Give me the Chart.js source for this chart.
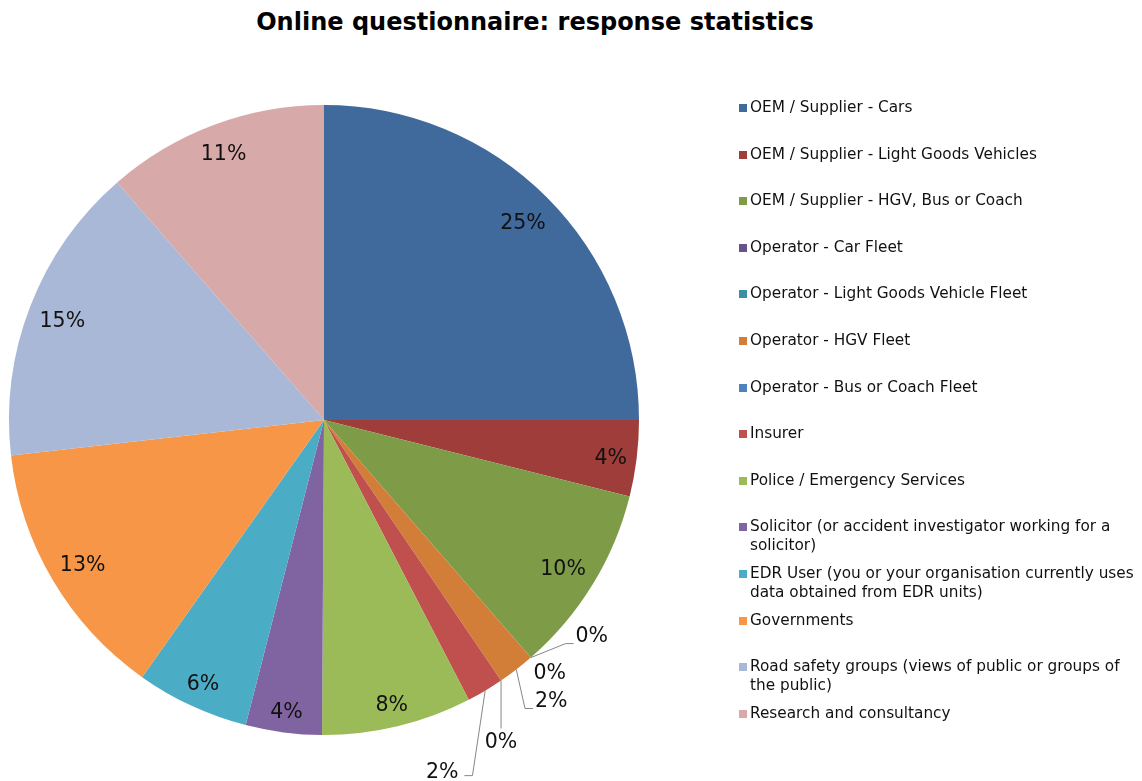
<!DOCTYPE html>
<html>
<head>
<meta charset="utf-8">
<script src="https://cdn.jsdelivr.net/npm/chart.js@4.4.1/dist/chart.umd.min.js"></script>
<style>
  body { margin: 0; background: #fff; }
  #wrap { position: relative; width: 1142px; height: 781px; font-family: "DejaVu Sans", Verdana, sans-serif; }
  #title { position: absolute; left: 0; top: 8px; width: 1070px; text-align: center; font-weight: bold; font-size: 24px; color: #000; }
  #chart { position: absolute; left: 0; top: 0; }
  #legend { position: absolute; left: 738px; top: 98px; }
  .item { position: absolute; left: 0; white-space: nowrap; font-size: 15.3px; line-height: 19px; color: #111; }
  .sw { position: absolute; left: 1px; top: 6px; width: 8px; height: 8px; }
  .txt { position: absolute; left: 12px; top: 0; }
</style>
</head>
<body>
<div id="wrap">
  <div id="title">Online questionnaire: response statistics</div>
  <canvas id="chart" width="1142" height="781"></canvas>
  <div id="legend"></div>
</div>
<script>
// respondent groups (legend order = slice order, clockwise from top)
const categories = [
  ["OEM / Supplier - Cars"],
  ["OEM / Supplier - Light Goods Vehicles"],
  ["OEM / Supplier - HGV, Bus or Coach"],
  ["Operator - Car Fleet"],
  ["Operator - Light Goods Vehicle Fleet"],
  ["Operator - HGV Fleet"],
  ["Operator - Bus or Coach Fleet"],
  ["Insurer"],
  ["Police / Emergency Services"],
  ["Solicitor (or accident investigator working for a", "solicitor)"],
  ["EDR User (you or your organisation currently uses", "data obtained from EDR units)"],
  ["Governments"],
  ["Road safety groups (views of public or groups of", "the public)"],
  ["Research and consultancy"],
];

// share of responses, %
const shares = [25, 3.9, 9.7, 0, 0, 1.9, 0, 1.9, 7.7, 3.9, 5.8, 13.4, 15.4, 11.4];

const colors = [
  "#40699C", "#9E3D3A", "#7E9C48", "#67528A", "#3B8FA6", "#D27E38", "#4F81BD",
  "#C0504D", "#9BBB59", "#8064A2", "#4BACC6", "#F79646", "#A9B8D7", "#D8A9A9",
];

// small slices get their label outside with a leader line
const callouts = {
  3: { dx: 61, dy: -21, leader: "right" },
  4: { dx: 19, dy: 16, leader: "none" },
  5: { dx: 35, dy: 32, leader: "right" },
  6: { dx: 0, dy: 62, leader: "down" },
  7: { dx: -43, dy: 82, leader: "left" },
};

// html legend
const legendEl = document.getElementById("legend");
categories.forEach((lines, i) => {
  const item = document.createElement("div");
  item.className = "item";
  item.style.top = (i * 46.6) + "px";
  item.innerHTML = '<div class="sw" style="background:' + colors[i] + '"></div><div class="txt">' + lines.join("<br>") + "</div>";
  legendEl.appendChild(item);
});

const total = shares.reduce((a, b) => a + b, 0);
const labelFont = 20.5;

const pieLabels = {
  id: "pieLabels",
  afterDatasetsDraw(chart) {
    const ctx = chart.ctx;
    const meta = chart.getDatasetMeta(0);
    ctx.save();
    ctx.font = labelFont + 'px "DejaVu Sans", Verdana, sans-serif';
    ctx.fillStyle = "#111";
    ctx.textAlign = "center";
    ctx.textBaseline = "middle";
    meta.data.forEach((arc, i) => {
      const { x, y, startAngle, endAngle, outerRadius } = arc.getProps(["x", "y", "startAngle", "endAngle", "outerRadius"], true);
      const text = Math.round(shares[i] / total * 100) + "%";
      const mid = (startAngle + endAngle) / 2;
      const ux = Math.cos(mid), uy = Math.sin(mid);
      const w = ctx.measureText(text).width + 4;
      const h = labelFont + 8;
      const co = callouts[i];
      if (!co) {
        // put box inside the slice, far corner just inside the rim
        const cx = Math.sign(ux) * w / 2, cy = Math.sign(uy) * h / 2;
        const R = outerRadius - 6;
        const uc = ux * cx + uy * cy;
        const D = -uc + Math.sqrt(uc * uc - (cx * cx + cy * cy) + R * R);
        ctx.fillText(text, x + ux * D, y + uy * D + 3);
        return;
      }
      const ax = x + ux * outerRadius, ay = y + uy * outerRadius;
      const lx = ax + co.dx, ly = ay + co.dy;
      const tw = w - 4;
      ctx.strokeStyle = "#868686";
      ctx.lineWidth = 1;
      ctx.beginPath();
      if (co.leader === "right") {
        const left = lx - tw / 2;
        ctx.moveTo(ax, ay);
        ctx.lineTo(left - 10, ly + 7);
        ctx.lineTo(left - 2, ly + 7);
      } else if (co.leader === "down") {
        ctx.moveTo(ax, ay);
        ctx.lineTo(ax, ly - 14);
      } else if (co.leader === "left") {
        const right = lx + tw / 2;
        ctx.moveTo(ax, ay);
        ctx.lineTo(right + 14, ly + 3);
        ctx.lineTo(right + 6, ly + 3);
      }
      ctx.stroke();
      ctx.fillText(text, lx, ly);
    });
    ctx.restore();
  },
};

new Chart(document.getElementById("chart").getContext("2d"), {
  type: "pie",
  data: {
    labels: categories,
    datasets: [{
      data: shares,
      backgroundColor: colors,
      borderWidth: 0,
      hoverOffset: 0,
    }],
  },
  options: {
    responsive: false,
    animation: false,
    layout: { padding: { left: 9, top: 105, right: 503, bottom: 46 } },
    plugins: {
      legend: { display: false },
      tooltip: { enabled: false },
      title: { display: false },
    },
  },
  plugins: [pieLabels],
});
</script>
</body>
</html>
